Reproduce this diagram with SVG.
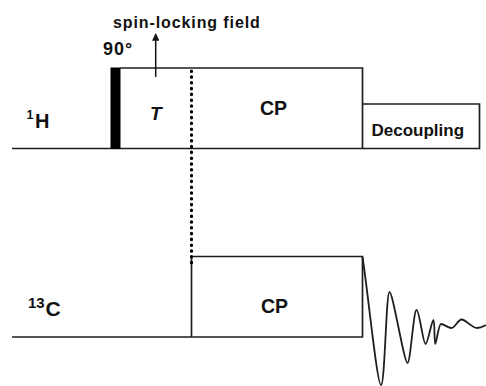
<svg xmlns="http://www.w3.org/2000/svg" width="486" height="386" viewBox="0 0 486 386">
<style>
  .ln{fill:none;stroke:#1e1e1e;stroke-width:1.7;stroke-linejoin:miter}
  .t{font-family:"Liberation Sans",Arial,Helvetica,sans-serif;font-weight:bold;fill:#111}
  .dot{fill:none;stroke:#000;stroke-width:3.2;stroke-linecap:round;stroke-dasharray:0.4 5.4}
</style>
<defs>
  <marker id="ah" viewBox="0 0 10 10" refX="9" refY="5" markerWidth="7.5" markerHeight="7.5" markerUnits="userSpaceOnUse" orient="auto">
    <path d="M0,0 L10,5 L0,10 z" fill="#111"/>
  </marker>
</defs>
<rect width="486" height="386" fill="#fff"/>

<g id="channel-1H">
  <path class="ln" d="M12,148.5 H479.5 V104 H362.5"/>
  <text class="t" x="26.5" y="118.5" font-size="12.5">1</text>
  <text class="t" x="35" y="128" font-size="20">H</text>
</g>

<g id="pulse-90">
  <rect x="110.5" y="67.5" width="10" height="81.5" fill="#000"/>
  <text class="t" x="103" y="55" font-size="18" letter-spacing="1">90°</text>
</g>

<g id="block-T-CP-1H">
  <path class="ln" d="M120,68 H362.5 V148.5"/>
  <text class="t" x="150" y="120" font-size="19" font-style="italic">T</text>
  <text class="t" x="260" y="115" font-size="19.5">CP</text>
</g>

<g id="block-decoupling">
  <text class="t" x="371.5" y="136" font-size="17">Decoupling</text>
</g>

<g id="spin-lock-label">
  <text class="t" x="113" y="27.5" font-size="16" letter-spacing="0.9">spin-locking field</text>
</g>

<g id="channel-13C">
  <path class="ln" d="M12,337 H362.5 V256.5 H191.5 V337"/>
  <text class="t" x="28" y="308" font-size="15">13</text>
  <text class="t" x="45.5" y="315.5" font-size="21">C</text>
  <text class="t" x="261" y="312.5" font-size="19.5">CP</text>
</g>

<g id="fid">
  <path fill="none" stroke="#1e1e1e" stroke-width="1.8" d="M362.5,257 C368,292 377,385 381,385 C385,385 386,292 389.5,292 C393,292 404,363 407.5,363 C410.5,363 413.5,310 416.5,310 C419.5,310 423,344 425.5,344 C428,344 431.5,320 433.5,320 C434.8,320 434.2,344 435.2,344 C436.5,344 438.5,324 441,324 C444,324 448,328 451.5,328 C455,328 458,319.5 461.5,319.5 C466,319.5 472,328 477,328 C481,328 484,326 486,325"/>
</g>

<g id="connectors">
  <path class="dot" d="M191.5,71 V265"/>
  <line x1="155.7" y1="77" x2="155.7" y2="34" stroke="#111" stroke-width="1.5" marker-end="url(#ah)"/>
</g>
</svg>
